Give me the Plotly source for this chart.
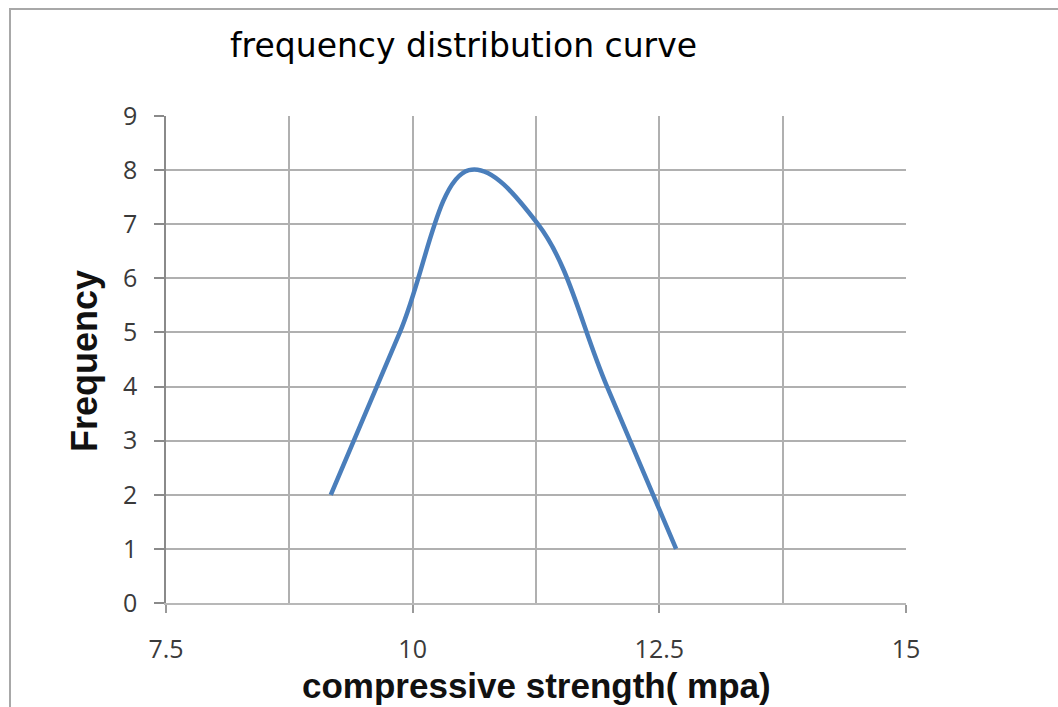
import plotly.graph_objects as go

# Data (class midpoints of compressive strength vs frequency)
strength = [9.17, 9.87, 10.57, 11.27, 11.97, 12.67]
frequency = [2, 5, 8, 7, 4, 1]

x_range = [7.5, 15]
y_range = [0, 9]
x_ticks = [7.5, 10, 12.5, 15]
x_tick_text = ["7.5", "10", "12.5", "15"]
y_ticks = list(range(0, 10))

W, H = 1058, 707
L, R, T, B = 166, 152, 116, 104
pw, ph = W - L - R, H - T - B

def px_x(p):
    return (p - L) / pw

def px_y(p):
    return (H - B - p) / ph

fig = go.Figure()
fig.add_trace(go.Scatter(
    x=strength, y=frequency, mode="lines",
    line=dict(color="#4a7ebb", width=4.5, shape="spline", smoothing=1.1),
    showlegend=False, hoverinfo="x+y",
))

grid = "#b0b0b0"
fig.update_layout(
    width=W, height=H,
    margin=dict(l=L, r=R, t=T, b=B, autoexpand=False),
    paper_bgcolor="white", plot_bgcolor="white",
    xaxis=dict(
        range=x_range, tickvals=x_ticks, ticktext=x_tick_text,
        showgrid=True, gridcolor=grid, gridwidth=1.5,
        minor=dict(dtick=1.25, tick0=7.5, showgrid=True, gridcolor=grid, gridwidth=1.5, ticks=""),
        ticks="outside", ticklen=8, tickwidth=1.5, tickcolor="#9a9a9a",
        showline=True, linecolor="#b8b8b8", linewidth=1.5,
        zeroline=False, ticklabelstandoff=15,
        tickfont=dict(family="Open Sans", size=25, color="#3a3a3a"),
    ),
    yaxis=dict(
        range=y_range, tickvals=y_ticks,
        showgrid=True, gridcolor=grid, gridwidth=1.5,
        ticks="outside", ticklen=10, tickwidth=1.5, tickcolor="#8a8a8a",
        showline=True, linecolor="#8a8a8a", linewidth=1.5,
        zeroline=False, ticklabelstandoff=12,
        tickfont=dict(family="Open Sans", size=25, color="#3a3a3a"),
    ),
    shapes=[dict(
        type="rect", xref="paper", yref="paper",
        x0=px_x(10), x1=px_x(1075), y0=px_y(720), y1=px_y(9),
        line=dict(color="#a8a8a8", width=2), fillcolor="rgba(0,0,0,0)", layer="below",
    )],
    annotations=[
        dict(text="frequency distribution curve", xref="paper", yref="paper",
             x=px_x(463), y=px_y(46), xanchor="center", yanchor="middle", showarrow=False,
             font=dict(family="DejaVu Sans", size=33, color="#000000")),
        dict(text="<b>Frequency</b>", xref="paper", yref="paper",
             x=px_x(84), y=px_y(361), xanchor="center", yanchor="middle", showarrow=False,
             textangle=-90, font=dict(family="Liberation Sans", size=36, color="#111111")),
        dict(text="<b>compressive strength( mpa)</b>", xref="paper", yref="paper",
             x=px_x(536), y=px_y(685), xanchor="center", yanchor="middle", showarrow=False,
             font=dict(family="Liberation Sans", size=35, color="#111111")),
    ],
)

fig.write_html("out.html")
